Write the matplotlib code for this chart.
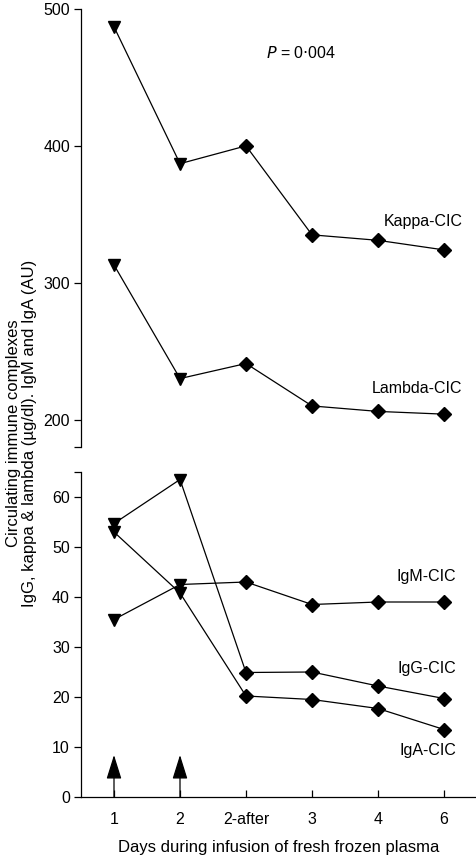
import numpy as np
import matplotlib
matplotlib.use('Agg')
import matplotlib.pyplot as plt

plt.rcParams['font.family'] = ['Liberation Sans', 'DejaVu Sans']

days = ['1', '2', '2-after', '3', '4', '6']

# upper panel (kappa & lambda, ug/dl)
kappa = [487, 387, 400, 335, 331, 324]
lambda_ = [313, 230, 241, 210, 206, 204]

# lower panel
igm = [35.5, 42.5, 43.0, 38.5, 39.0, 39.0]
igg = [54.7, 63.5, 24.9, 25.0, 22.2, 19.7]
iga = [53.0, 40.8, 20.2, 19.5, 17.7, 13.5]

# infusion days (arrows)
infusion = ['1', '2']

fs = 11.5
x = np.arange(len(days))

fig = plt.figure(figsize=(4.77, 8.57), dpi=100)
ax1 = fig.add_axes([81 / 477, 1 - 447 / 857, 396 / 477, 438 / 857])
ax2 = fig.add_axes([81 / 477, 1 - 797 / 857, 396 / 477, 325 / 857])


def draw(ax, vals):
    ax.plot(x, vals, color='black', lw=0.9, zorder=2)
    ax.plot(x[:2], vals[:2], 'v', color='black', ms=8.5, zorder=3)
    ax.plot(x[2:], vals[2:], 'D', color='black', ms=7, zorder=3)


for s in [kappa, lambda_]:
    draw(ax1, s)
for s in [igm, igg, iga]:
    draw(ax2, s)

for ax in [ax1, ax2]:
    ax.set_xlim(-0.5, 5.5)
    ax.spines['top'].set_visible(False)
    ax.spines['right'].set_visible(False)
    ax.tick_params(axis='y', direction='out', length=5, width=0.9, labelsize=fs, pad=3)
    ax.spines['left'].set_linewidth(0.9)

ax1.set_ylim(180, 500)
ax1.set_yticks([180, 200, 300, 400, 500])
ax1.set_yticklabels(['', '200', '300', '400', '500'])
ax1.spines['bottom'].set_visible(False)
ax1.set_xticks([])

ax2.set_ylim(0, 65)
ax2.set_yticks([0, 10, 20, 30, 40, 50, 60, 65])
ax2.set_yticklabels(['0', '10', '20', '30', '40', '50', '60', ''])
ax2.set_xticks(x)
ax2.set_xticklabels(days)
ax2.tick_params(axis='x', direction='in', length=5, width=0.9, labelsize=fs, pad=11)
ax2.spines['bottom'].set_linewidth(0.9)
ax2.set_xlabel('Days during infusion of fresh frozen plasma', fontsize=12, labelpad=9)

for d in infusion:
    i = days.index(d)
    ax2.annotate('', xy=(i, 8.4), xytext=(i, 0),
                 arrowprops=dict(arrowstyle='-|>,head_length=1.5,head_width=0.47',
                                 mutation_scale=10, color='black', lw=0.9,
                                 shrinkA=0, shrinkB=0))

ax1.text(2.83, 468, r'$P$ = 0$\cdot$004', fontsize=fs, ha='center', va='center')
ax1.text(5.28, 345, 'Kappa-CIC', fontsize=fs, ha='right', va='center')
ax1.text(5.28, 223, 'Lambda-CIC', fontsize=fs, ha='right', va='center')
ax2.text(5.19, 44.2, 'IgM-CIC', fontsize=fs, ha='right', va='center')
ax2.text(5.19, 25.6, 'IgG-CIC', fontsize=fs, ha='right', va='center')
ax2.text(5.19, 9.25, 'IgA-CIC', fontsize=fs, ha='right', va='center')

fig.text(0.045, 1 - 433 / 857,
         'Circulating immune complexes\nIgG, kappa & lambda (\u00b5g/dl). IgM and IgA (AU)',
         rotation=90, ha='center', va='center', fontsize=12, linespacing=1.1)

fig.savefig('out.png', dpi=100)
